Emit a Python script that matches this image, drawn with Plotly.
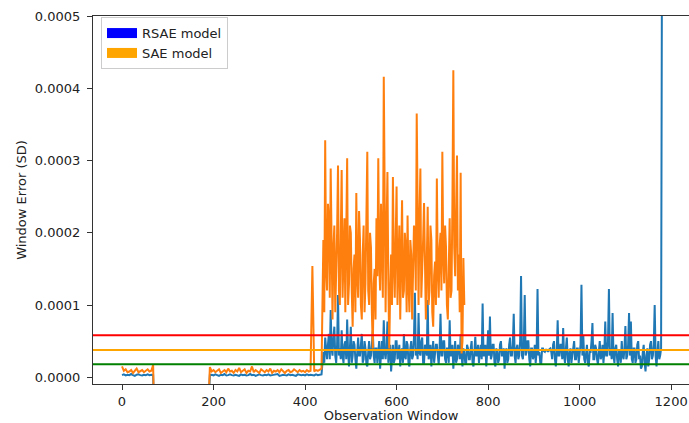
import plotly.graph_objects as go

# ---------------- data (values in units of 1e-5) ----------------
UNIT = 1e-5

win_a = list(range(0, 69, 4))          # 0 .. 68
win_gap = [70, 188]                    # windows with no valid error (below axis)
win_b = list(range(192, 437, 4))       # 192 .. 436
sae_win_c = list(range(440, 749, 2))   # 440 .. 748
rsae_win_c = list(range(440, 1181, 2)) # 440 .. 1180

gap_values = [-5, -5]

rsae_a = [0.3, 0.4, 0.25, 0.35, 0.3, 0.45, 0.3, 0.2, 0.35, 0.4,
          0.3, 0.25, 0.35, 0.3, 0.4, 0.3, 0.35, 0.3]
sae_a = [1.5, 0.9, 1.1, 0.7, 0.8, 1.0, 0.6, 0.9, 1.2, 0.7,
         0.8, 1.0, 0.7, 0.9, 1.1, 0.8, 0.9, 1.7]

rsae_b = [0.3, 0.35, 0.25, 0.4, 0.3, 0.2, 0.35, 0.3, 0.45, 0.25,
          0.3, 0.4, 0.3, 0.25, 0.35, 0.3, 0.2, 0.4, 0.3, 0.35,
          0.25, 0.3, 0.45, 0.3, 0.35, 0.2, 0.3, 0.4, 0.3, 0.25,
          0.35, 0.3, 0.4, 0.25, 0.3, 0.35, 0.3, 0.45, 0.2, 0.3,
          0.35, 0.3, 0.25, 0.4, 0.3, 0.35, 0.3, 0.2, 0.4, 0.3,
          0.3, 0.35, 0.25, 0.4, 0.3, 0.35, 0.3, 0.25, 0.4, 0.3,
          0.35, 0.4]
sae_b = [1.4, 0.8, 1.0, 0.7, 0.9, 1.1, 0.6, 0.8, 1.0, 0.7,
         1.2, 0.8, 0.9, 0.6, 1.0, 0.8, 1.3, 0.7, 0.9, 1.1,
         0.6, 0.9, 0.8, 1.5, 0.7, 1.0, 0.8, 0.6, 1.1, 0.9,
         0.7, 1.0, 0.8, 1.2, 0.6, 0.9, 0.8, 1.0, 0.7, 1.1,
         0.8, 0.6, 0.9, 1.0, 0.7, 0.8, 1.1, 0.9, 0.7, 1.0,
         0.8, 0.9, 0.7, 1.0, 0.8, 0.9, 15.4, 0.8, 1.0, 0.9,
         1.1, 1.2]

sae_c = [19, 9, 32.8, 15, 12, 24, 22, 11, 28.9, 14,
         8, 18, 21, 9, 14, 20, 29.3, 12, 10, 19,
         28.7, 11, 16, 22, 9, 17, 30.3, 10, 13, 21,
         20, 12, 7, 15, 17, 9, 25.5, 14, 11, 23,
         19, 10, 8, 17, 21, 9, 13, 22, 31.2, 12,
         10, 20, 18, 9, 4, 13, 15, 8, 22, 14,
         30.3, 16, 12, 24, 19, 11, 41.6, 15, 9, 20,
         28.4, 13, 4, 12, 17, 10, 27.7, 16, 11, 19,
         26.4, 10, 15, 21, 8, 14, 24.5, 11, 12, 20,
         18, 9, 22.4, 13, 9, 19, 17, 8, 13, 21,
         20, 12, 36.5, 16, 10, 22, 28.9, 11, 14, 19,
         24.1, 12, 8, 16, 23.6, 10, 12, 21, 19, 9,
         7, 14, 16, 10, 27.5, 15, 11, 18, 20, 12,
         31.2, 17, 13, 21, 18, 10, 8, 15, 22, 11,
         12, 24, 42.5, 18, 14, 23, 30.7, 12, 17, 9,
         28.3, 3.3, 5, 16.5, 10]

rsae_c = [3.5, 2, 5.5, 3.5, 2.5, 4.5, 6, 2.5, 9.3, 4, 3, 5.5, 7, 3, 2, 4.5, 11.4, 3, 4, 2.5,
          6.5, 3, 2, 4.5, 5, 2.5, 8, 3.5, 1.5, 4, 7, 2, 3, 5, 4.5, 2.5, 1.2, 3.5, 5.5, 3,
          3, 4.5, 6, 2, 2.5, 5, 4, 1.8, 1.5, 3.5, 5, 2.5, 3, 4.5, 6.5, 3, 2, 4, 4, 2,
          3.5, 5, 1.2, 3, 5, 2.5, 7.9, 3.5, 2.5, 4, 7.7, 2, 3, 4.5, 0.8, 3, 4.5, 2, 2.5, 5,
          5, 2.5, 3, 4.5, 1.5, 3.5, 4, 2, 6, 3, 2.5, 5, 4.5, 2, 1.5, 4, 5, 2.5, 3, 5.5,
          11.7, 3, 4, 2.5, 8.9, 3.5, 3, 5, 5.5, 2, 2, 4.5, 4, 3, 10.7, 2.5, 3, 4.5, 1.5, 3.5,
          5, 2, 3, 4.5, 4.5, 2.5, 1.8, 4, 8.8, 3, 3, 5, 5, 2.5, 2, 4, 4, 2, 7.9, 3,
          3, 4.5, 1.2, 3, 5, 2, 2.5, 4.5, 4, 2.5, 6, 3, 1.5, 4, 3.5, 2, 2, 4.5, 4, 2.5,
          2.5, 4, 5, 2, 1.5, 3.5, 5.6, 3, 3, 4.5, 2, 3.5, 4.5, 2.5, 10.2, 3, 3, 4.5, 1.5, 3.5,
          6.5, 3, 8.4, 2.5, 3, 4.5, 4.5, 2, 1.5, 4, 3.5, 2, 2.5, 4.5, 5, 3, 3, 4, 1.2, 3.5,
          4, 2, 2.5, 4.5, 5.5, 3, 3, 4.5, 8.8, 3, 2, 4, 4.5, 2.5, 3, 5, 14, 3, 2.5, 4.5,
          11.4, 3, 3.5, 5, 5, 2.5, 1.5, 4, 4, 2.5, 3, 4.5, 2, 3.5, 12.2, 3, 3.5, 2, 1.8, 4,
          4, 3.6, 3.5, 3.8, 3.8, 3.6, 3.6, 3.9, 4, 3.5, 2.5, 4.5, 5, 2.5, 1.5, 3.5, 7.9, 3, 3, 4.5,
          4.5, 2.5, 6.8, 3, 2, 4, 5.5, 2.5, 1.5, 3.5, 4, 2, 3, 4.5, 5, 2.5, 2.5, 4, 4, 2,
          3, 4.5, 12.8, 3, 5.8, 2.5, 2, 4, 4.5, 2, 1.5, 3.5, 3.5, 5, 7.5, 2.5, 2.5, 4.5, 4, 2.5,
          1.8, 3.5, 5, 2.5, 3, 4.5, 2, 3.5, 7.7, 3, 3, 5, 12.2, 3, 4, 2.5, 8.9, 3, 2, 4,
          4.5, 2.5, 1.5, 3.5, 3.5, 2, 5, 3, 2.5, 4, 7.1, 2.5, 3, 4.5, 8.9, 3, 7.7, 2.5, 2, 4,
          4, 2, 2.5, 4.5, 5, 2.5, 3, 1.2, 1.5, 3.5, 4.5, 2, 0.8, 3, 4, 1.5, 2.5, 4.5, 5, 2.5,
          3, 4.5, 10, 3, 1.5, 3.5, 5, 2.5, 3, 4, 60]

thresholds = [5.81, 3.78, 1.80]
threshold_colors = ["#ff0000", "#ffa500", "#008000"]

x_ticks = [0, 200, 400, 600, 800, 1000, 1200]
y_ticks = [0.0, 0.0001, 0.0002, 0.0003, 0.0004, 0.0005]
y_tick_labels = ["0.0000", "0.0001", "0.0002", "0.0003", "0.0004", "0.0005"]

# ---------------- build series ----------------
rsae_x = win_a + win_gap + win_b + rsae_win_c
rsae_y = [v * UNIT for v in rsae_a + gap_values + rsae_b + rsae_c]
sae_x = win_a + win_gap + win_b + sae_win_c
sae_y = [v * UNIT for v in sae_a + gap_values + sae_b + sae_c]

fig = go.Figure()
fig.add_trace(go.Scatter(x=rsae_x, y=rsae_y, mode="lines",
                         line=dict(color="#1f77b4", width=2), showlegend=False))
fig.add_trace(go.Scatter(x=sae_x, y=sae_y, mode="lines",
                         line=dict(color="#ff7f0e", width=2), showlegend=False))

# legend patches
fig.add_trace(go.Scatter(x=[None], y=[None], mode="lines", name="RSAE model",
                         line=dict(color="#0000ff", width=10)))
fig.add_trace(go.Scatter(x=[None], y=[None], mode="lines", name="SAE model",
                         line=dict(color="#ffa500", width=10)))

for t, c in zip(thresholds, threshold_colors):
    fig.add_hline(y=t * UNIT, line=dict(color=c, width=2))

FONT = "DejaVu Sans"
fig.update_layout(
    width=689, height=423,
    margin=dict(l=93, r=0, t=16, b=39),
    paper_bgcolor="white", plot_bgcolor="white",
    font=dict(family=FONT, size=13, color="#222"),
    legend=dict(x=0.0134, y=0.997, xanchor="left", yanchor="top",
                bgcolor="rgba(255,255,255,0.8)", bordercolor="#cccccc",
                borderwidth=1, font=dict(size=13), tracegroupgap=0),
    showlegend=True,
)
fig.update_xaxes(range=[-63.4, 1239], tickvals=x_ticks, ticks="outside",
                 ticklen=5, tickwidth=1, tickcolor="#333", showline=True,
                 linecolor="#333", linewidth=1.2, mirror=True, showgrid=False,
                 zeroline=False, automargin=False, ticklabelstandoff=0,
                 title=dict(text="Observation Window", standoff=5,
                            font=dict(size=13)))
fig.update_yaxes(range=[-0.0000093, 0.0005], tickvals=y_ticks,
                 ticktext=y_tick_labels, ticks="outside", ticklen=5,
                 tickwidth=1, tickcolor="#333", showline=True,
                 linecolor="#333", linewidth=1.2, mirror=False,
                 showgrid=False, zeroline=False, automargin=False,
                 ticklabelstandoff=4,
                 title=dict(text="Window Error (SD)", standoff=5,
                            font=dict(size=13)))

fig.write_html("out.html",
               config={"displayModeBar": False},
               post_script="document.body.style.margin='0px';"
                           "document.body.style.overflow='hidden';")
